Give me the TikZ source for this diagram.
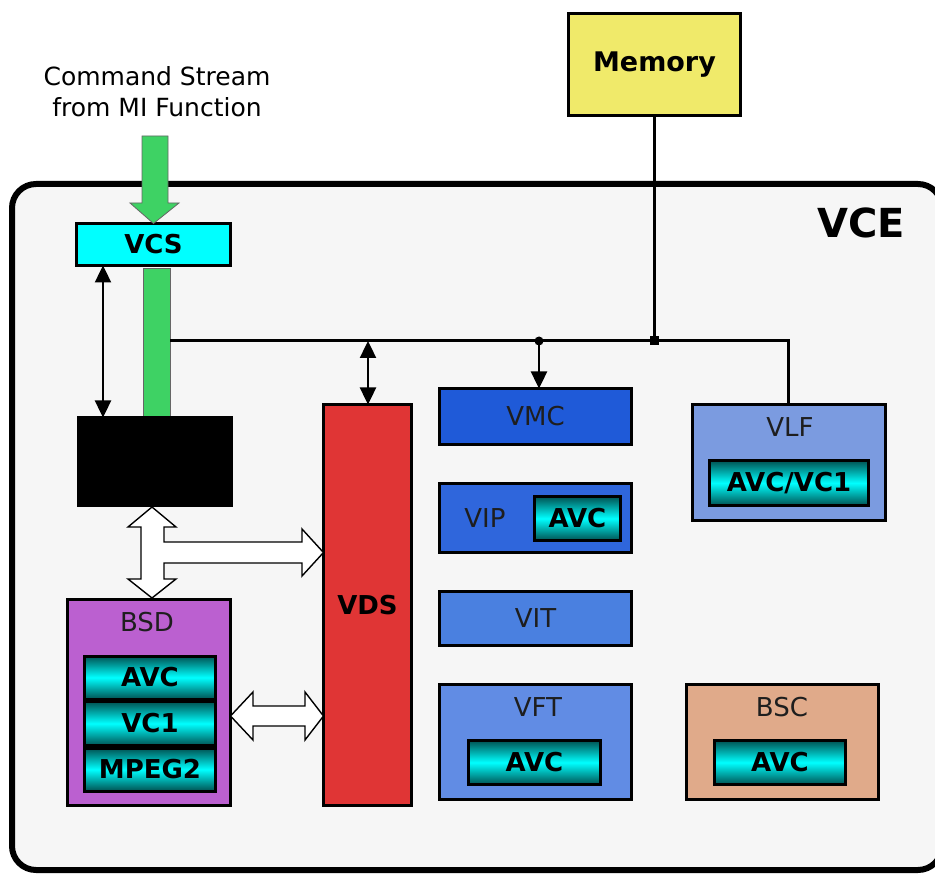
\documentclass[tikz,border=0pt]{standalone}
\usepackage{fontspec}
\setmainfont{DejaVu Sans}
\usetikzlibrary{arrows.meta,calc}
\definecolor{bgc}{RGB}{246,246,246}
\definecolor{memc}{RGB}{240,234,106}
\definecolor{vcsc}{RGB}{0,255,255}
\definecolor{grn}{RGB}{62,210,100}
\definecolor{vdsc}{RGB}{224,53,53}
\definecolor{bsdc}{RGB}{187,96,208}
\definecolor{vmcc}{RGB}{31,90,216}
\definecolor{vipc}{RGB}{47,102,220}
\definecolor{vitc}{RGB}{74,128,224}
\definecolor{vftc}{RGB}{97,140,228}
\definecolor{vlfc}{RGB}{123,155,224}
\definecolor{bscc}{RGB}{224,170,138}
\definecolor{cydark}{RGB}{0,82,82}
\definecolor{lblc}{RGB}{30,30,30}
\tikzset{
  box/.style={draw=black, line width=3pt, inner sep=0pt, outer sep=0pt},
  bfont/.style={font=\fontsize{26}{28}\selectfont\bfseries},
  cybox/.style={box, top color=cydark, bottom color=cydark, middle color=vcsc, bfont},
  lbl/.style={font=\fontsize{26}{28}\selectfont, text=lblc, inner sep=0pt},
  conn/.style={line width=3pt, draw=black},
  dblarr/.style={line width=2.4pt, {Triangle[width=16pt,length=17pt]}-{Triangle[width=16pt,length=17pt]}},
  hollow/.style={fill=white, draw=black, line width=1.4pt, line join=miter},
}
\begin{document}
\begin{tikzpicture}[x=1pt,y=-1pt]
\clip (0,0) rectangle (935,877);
\fill[white] (0,0) rectangle (935,877);
% VCE outer
\draw[line width=6pt, fill=bgc, rounded corners=24pt] (12,184) rectangle (942,870);
\node[font=\fontsize{40}{44}\selectfont\bfseries, inner sep=0pt] (vce) at (861,223) {VCE};
% Memory
\node[box, fill=memc, minimum width=172pt, minimum height=102pt, font=\fontsize{27}{29}\selectfont\bfseries] (mem) at (654.5,64.5) {Memory};
% Command stream text
\node[font=\fontsize{25}{31}\selectfont, align=center, inner sep=0pt] (cmd) at (157,92) {Command Stream\\from MI Function};
% VCS
\node[box, fill=vcsc, minimum width=154pt, minimum height=42pt, bfont] (vcs) at (153.5,244.5) {VCS};
% green bar below VCS
\node[draw=black!60, line width=0.8pt, fill=grn, minimum width=27pt, minimum height=149pt, inner sep=0pt, outer sep=0pt] (gbar) at (156.5,342.5) {};
% green arrow into VCS
\draw[draw=black!60, line width=0.8pt, fill=grn] (142,136) -- (168,136) -- (168,203) -- (179,203) -- (vcs.north) -- (130,203) -- (142,203) -- cycle;
% black box
\node[box, fill=black, minimum width=153pt, minimum height=88pt] (blk) at (155,461.5) {};
% BSD
\node[box, fill=bsdc, minimum width=163pt, minimum height=206pt] (bsd) at (149,702.5) {};
\node[lbl] (bsdl) at (147,622) {BSD};
\node[cybox, minimum width=131pt, minimum height=43pt] (bavc) at (150,677.5) {AVC};
\node[cybox, minimum width=131pt, minimum height=44pt] (bvc) at (150,723.5) {VC1};
\node[cybox, minimum width=131pt, minimum height=43pt] (bmp) at (150,769.5) {MPEG2};
% VDS
\node[box, fill=vdsc, minimum width=88pt, minimum height=401pt, bfont] (vds) at (367.5,605) {VDS};
% VMC
\node[box, fill=vmcc, minimum width=192pt, minimum height=56pt, lbl] (vmc) at (535.5,416.5) {VMC};
% VIP
\node[box, fill=vipc, minimum width=192pt, minimum height=69pt] (vip) at (535.5,518) {};
\node[lbl] (vipl) at (485,518) {VIP};
\node[cybox, minimum width=86pt, minimum height=44pt] (vipa) at (577.5,518.5) {AVC};
% VIT
\node[box, fill=vitc, minimum width=192pt, minimum height=54pt, lbl] (vit) at (535.5,618.5) {VIT};
% VFT
\node[box, fill=vftc, minimum width=192pt, minimum height=115pt] (vft) at (535.5,742) {};
\node[lbl] (vftl) at (538,707) {VFT};
\node[cybox, minimum width=132pt, minimum height=44pt] (vfta) at (534.5,762.5) {AVC};
% VLF
\node[box, fill=vlfc, minimum width=193pt, minimum height=116pt] (vlf) at (789,462.5) {};
\node[lbl] (vlfl) at (790,427) {VLF};
\node[cybox, minimum width=159pt, minimum height=45pt] (vlfa) at (789,483) {AVC/VC1};
% BSC
\node[box, fill=bscc, minimum width=192pt, minimum height=115pt] (bsc) at (782.5,742) {};
\node[lbl] (bscl) at (782,707) {BSC};
\node[cybox, minimum width=131pt, minimum height=44pt] (bsca) at (780,762.5) {AVC};
% bus
\coordinate (j1) at (mem.south |- 0,341);
\coordinate (j0) at (539,341);
\coordinate (jv) at (368,341);
\coordinate (jl) at (788,341);
\draw[conn] (mem.south) -- (j1);
\draw[conn] (gbar.east |- j1) -- (jl) -- (jl |- vlf.north);
\fill (j1) +(-4.5,-4.5) rectangle +(4.5,4.5);
\fill (j0) circle (4.5pt);
\draw[line width=2.4pt, -{Triangle[width=16pt,length=17pt]}] (j0) -- (j0 |- vmc.north);
\draw[dblarr] (jv) -- (jv |- vds.north);
\coordinate (ta) at (103,0);
\draw[dblarr] (ta |- vcs.south) -- (ta |- blk.north);
% hollow T double arrow
\draw[hollow] (152,507) -- (176,527) -- (164,527) -- (164,542) -- (302,542) -- (302,529)
  -- (vds.west |- 0,552.5) -- (302,576) -- (302,563) -- (164,563) -- (164,579) -- (176,579)
  -- (152,598) -- (128,579) -- (141,579) -- (141,527) -- (128,527) -- cycle;
% hollow horizontal double arrow
\draw[hollow] (bsd.east |- 0,716) -- (253,692) -- (253,706) -- (305,706) -- (305,692)
  -- (vds.west |- 0,716) -- (305,740) -- (305,726) -- (253,726) -- (253,740) -- cycle;
\end{tikzpicture}
\end{document}
